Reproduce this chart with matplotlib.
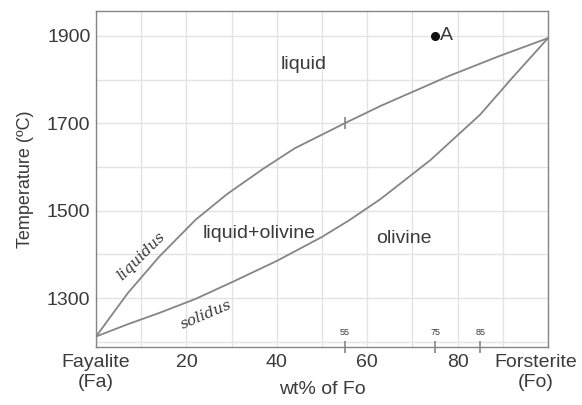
import matplotlib
matplotlib.use("Agg")
import matplotlib.pyplot as plt
import matplotlib.transforms as mtransforms
from matplotlib.ticker import MultipleLocator
import numpy as np

# curves (wt% Fo, temperature in degC)
liquidus_fo = [0, 7, 14, 22, 29, 37, 44, 55, 63, 78, 89, 100]
liquidus_t = [1212, 1311, 1395, 1479, 1538, 1596, 1643, 1700, 1740, 1808, 1853, 1895]
solidus_fo = [0, 7, 14, 22, 30, 40, 50, 56, 63, 74, 85, 92, 100]
solidus_t = [1212, 1240, 1266, 1298, 1336, 1385, 1440, 1478, 1527, 1616, 1720, 1803, 1895]

point_a = (75, 1900)
marked_fo = [55, 75, 85]

x_ticks = [0, 20, 40, 60, 80, 100]
x_labels = ["Fayalite\n(Fa)", "20", "40", "60", "80", "Forsterite\n(Fo)"]
y_ticks = [1300, 1500, 1700, 1900]

TEXT = "#3a3a3a"
LINE = "#858585"

plt.rcParams["font.family"] = ["Liberation Sans", "DejaVu Sans"]

fig = plt.figure(figsize=(5.82, 4.05), dpi=100)
ax = fig.add_axes([0.165, 0.1432, 0.7766, 0.8296])

ax.set_xlim(0, 100)
ax.set_ylim(1188, 1957)

ax.xaxis.set_minor_locator(MultipleLocator(10))
ax.yaxis.set_minor_locator(MultipleLocator(100))
ax.set_xticks(x_ticks)
ax.set_xticklabels(x_labels)
ax.set_yticks(y_ticks)
ax.grid(which="both", color="#e3e3e3", linewidth=1.0)
ax.set_axisbelow(True)
ax.tick_params(which="both", length=0, labelsize=14, labelcolor=TEXT)
ax.tick_params(axis="x", pad=5)
ax.tick_params(axis="y", pad=4)
for s in ax.spines.values():
    s.set_color(LINE)
    s.set_linewidth(1.0)

# the end label sits a little left of its tick so it stays in the picture
last = ax.get_xticklabels()[-1]
last.set_transform(last.get_transform()
                   + mtransforms.ScaledTranslation(-9 / 72, 0, fig.dpi_scale_trans))

ax.plot(liquidus_fo, liquidus_t, color=LINE, lw=1.3)
ax.plot(solidus_fo, solidus_t, color=LINE, lw=1.3)

# little mark on the liquidus at Fo55
ax.plot([55], [np.interp(55, liquidus_fo, liquidus_t)], marker="|", ms=9,
        mew=1.2, color=LINE)

# marked compositions on the x axis
ylo = ax.get_ylim()[0]
ax.plot(marked_fo, [ylo] * len(marked_fo), ls="none", marker="|", ms=9,
        mew=1.2, color=LINE, clip_on=False)
for fo in marked_fo:
    ax.text(fo, ylo + 22, str(fo), fontsize=6.5, color=TEXT,
            ha="center", va="bottom")

ax.plot([point_a[0]], [point_a[1]], "o", color="#111111", ms=5.5)
ax.text(point_a[0] + 1.0, point_a[1], "A", fontsize=14, color=TEXT,
        ha="left", va="center")

ax.text(46, 1834, "liquid", fontsize=14, color=TEXT, ha="center", va="center")
ax.text(36, 1447, "liquid+olivine", fontsize=14, color=TEXT,
        ha="center", va="center")
ax.text(68, 1437, "olivine", fontsize=14, color=TEXT, ha="center", va="center")
ax.text(10.1, 1395, "liquidus", fontsize=11, style="italic",
        family="DejaVu Serif", color=TEXT, rotation=45,
        ha="center", va="center", rotation_mode="anchor")
ax.text(24.3, 1261, "solidus", fontsize=11, style="italic",
        family="DejaVu Serif", color=TEXT, rotation=23,
        ha="center", va="center", rotation_mode="anchor")

ax.set_ylabel("Temperature (ºC)", fontsize=13, color=TEXT, labelpad=9)
ax.set_xlabel("wt% of Fo", fontsize=14, color=TEXT)
ax.xaxis.set_label_coords(0.5, -0.10)

fig.savefig("out.png", dpi=100)
